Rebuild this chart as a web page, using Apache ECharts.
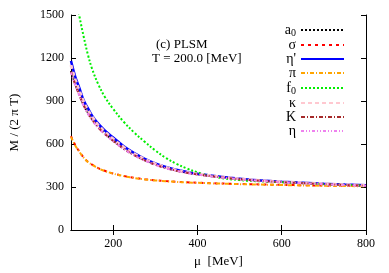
<!DOCTYPE html>
<html><head><meta charset="utf-8">
<script src="https://cdn.jsdelivr.net/npm/echarts@6/dist/echarts.min.js"></script>
<style>html,body{margin:0;padding:0;background:#fff}#c{width:389px;height:273px}</style>
</head><body><div id="c"></div>
<script>
const mu = [100,110,120,130,140,150,165,180,200,225,250,275,300,325,350,375,400,450,500,550,600,650,700,750,800];
const a0    = [1110,1020,945,875,820,775,718,675,625,570,525,488,458,434,415,400,389,370,355,344,335,328,321,315,310];
const sigma = [655,593,547,506,476,456,431,413,394,377,364,354,347,341,337,333,330,325,321,318,315,312,310,308,306];
const etaP  = [1180,1070,990,905,850,798,740,695,645,585,537,497,465,440,420,405,393,373,358,346,337,330,323,317,312];
const pi    = [650,590,545,505,475,455,430,412,393,376,363,353,346,340,336,332,329,324,320,317,314,311,309,307,305];
const f0    = [1820,1640,1490,1350,1225,1125,1015,930,845,755,680,615,555,503,462,429,402,366,348,339,333,327,320,315,311];
const kappa = [1150,1050,970,895,838,790,730,686,635,578,531,493,462,437,418,402,391,372,357,345,336,329,322,316,311];
const K     = [1105,1015,940,870,815,770,714,671,622,567,522,486,456,432,414,399,388,369,354,343,334,327,320,314,309];
const eta   = [1100,1010,936,866,812,767,711,668,619,565,520,484,455,431,413,398,387,368,354,343,334,327,320,314,309];
const xTicks = [200,400,600,800];
const yTicks = [0,300,600,900,1200,1500];

const pairs = v => mu.map((m,i)=>[m,v[i]]);
const serif = 'Liberation Serif';
const defs = [
  {name:'a0', data:a0, color:'#000000', type:[2,2], w:2},
  {name:'σ', data:sigma, color:'#ff0000', type:[3,4], w:2},
  {name:"η'", data:etaP, color:'#0000ff', type:'solid', w:2.5},
  {name:'π', data:pi, color:'#ffa500', type:[4,2,1,2], w:2},
  {name:'f0', data:f0, color:'#00ee00', type:[2,2], w:2},
  {name:'κ', data:kappa, color:'#ffc8d0', type:[4,3], w:3},
  {name:'K', data:K, color:'#a52a2a', type:[4,2,1,2], w:2},
  {name:'η', data:eta, color:'#ee82ee', type:[3,2,1,2,1,2], w:2}
];
const chart = echarts.init(document.getElementById('c'), null, {renderer:'canvas'});
chart.setOption({
  animation:false,
  backgroundColor:'#fff',
  grid:{left:71, right:23, top:15, bottom:43},
  legend:{
    show:true,
    orient:'vertical', right:39, top:17, align:'right',
    itemWidth:43, itemHeight:10, itemGap:0,
    itemStyle:{opacity:0},
    data: defs.map(d=>d.name),
    formatter: n => n==='a0' ? '{m|a}{s|0}' : n==='f0' ? '{m|f}{s|0}' : '{m|'+n+'}',
    textStyle:{fontFamily:serif, fontSize:14, color:'#000', lineHeight:10,
      rich:{m:{fontFamily:serif, fontSize:14, color:'#000', lineHeight:10}, s:{fontFamily:serif, fontSize:10, color:'#000', lineHeight:10, padding:[6,0,0,0]}}}
  },
  xAxis:[{
    type:'value', min:100, max:800, position:'bottom',
    axisLine:{show:true, lineStyle:{color:'#000', width:1}},
    axisTick:{show:true, inside:true, length:5, customValues:xTicks, lineStyle:{color:'#000'}},
    axisLabel:{customValues:xTicks, fontFamily:serif, fontSize:12, color:'#000', margin:8},
    splitLine:{show:false},
    name:'μ  [MeV]', nameLocation:'middle', nameGap:24,
    nameTextStyle:{fontFamily:serif, fontSize:13, color:'#000'}
  },{
    type:'value', min:100, max:800, position:'top',
    axisLine:{show:true, lineStyle:{color:'#000', width:1}},
    axisTick:{show:true, inside:true, length:5, customValues:xTicks, lineStyle:{color:'#000'}},
    axisLabel:{show:false}, splitLine:{show:false}
  }],
  yAxis:[{
    type:'value', min:0, max:1500, interval:300, position:'left',
    axisLine:{show:true, lineStyle:{color:'#000', width:1}},
    axisTick:{show:true, inside:true, length:5, lineStyle:{color:'#000'}},
    axisLabel:{fontFamily:serif, fontSize:12, color:'#000', margin:7, formatter: v => String(v)},
    splitLine:{show:false},
    name:'M / (2 π T)', nameLocation:'middle', nameGap:50, nameRotate:90,
    nameTextStyle:{fontFamily:serif, fontSize:13, color:'#000'}
  },{
    type:'value', min:0, max:1500, interval:300, position:'right',
    axisLine:{show:true, lineStyle:{color:'#000', width:1}},
    axisTick:{show:true, inside:true, length:5, lineStyle:{color:'#000'}},
    axisLabel:{show:false}, splitLine:{show:false}
  }],
  graphic:[
    {type:'text', left:156, top:38, style:{text:'(c) PLSM', font:'13px "Liberation Serif"', fill:'#000'}},
    {type:'text', left:152, top:52, style:{text:'T = 200.0 [MeV]', font:'13px "Liberation Serif"', fill:'#000'}}
  ],
  series: defs.map(d=>({
    name:d.name, type:'line', data:pairs(d.data), smooth:0.4, showSymbol:false, symbol:'none',
    clip:true, xAxisIndex:0, yAxisIndex:0,
    lineStyle:{color:d.color, width:d.w, type:d.type},
    itemStyle:{color:d.color}
  }))
});
</script></body></html>
